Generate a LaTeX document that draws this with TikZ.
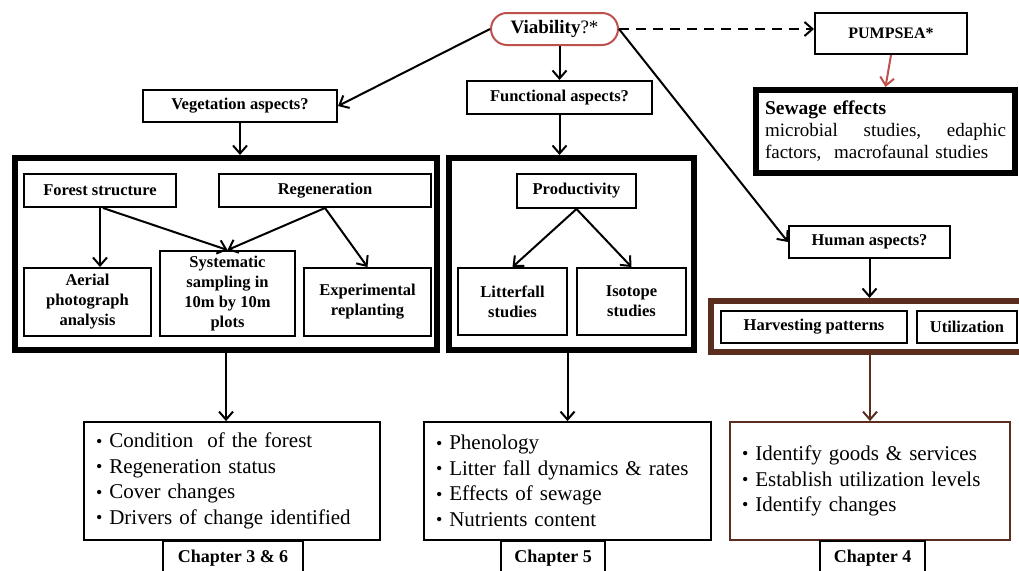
\documentclass[tikz,border=0pt]{standalone}
\usepackage{fontspec}
\setmainfont{Liberation Serif}
\usetikzlibrary{arrows.meta}
\definecolor{vred}{RGB}{192,80,77}
\definecolor{vbrown}{RGB}{90,45,30}
\newcommand\mylbl{\fontsize{16.5}{20}\selectfont\bfseries}
\newcommand\mybul{\raisebox{0.8pt}{\fontsize{18}{18}\selectfont\textbullet}\ }
\tikzset{
  box/.style={draw, line width=2pt, inner sep=0pt, align=center, font=\mylbl},
  thickbox/.style={draw, line width=6pt, inner sep=0pt},
  arr/.style={line width=2pt, -{Straight Barb[length=8pt,width=14pt]}},
  bull/.style={draw, line width=1.8pt, align=left, inner xsep=12pt, inner ysep=0pt,
    font=\fontsize{21}{25.5}\selectfont},
  chap/.style={box, font=\fontsize{18}{20}\selectfont\bfseries, minimum height=34pt}
}
\begin{document}
\begin{tikzpicture}[x=1pt,y=-1pt]
\clip (0,0) rectangle (1019,570);
\fill[white] (0,0) rectangle (1019,570);

% top
\node[draw=vred, line width=2pt, rounded corners=16pt, minimum width=127pt, minimum height=32pt,
  inner sep=0pt, font=\fontsize{19}{22}\selectfont] (viab) at (554.5,29) {\textbf{Viability}?*};
\node[box, minimum width=152pt, minimum height=41pt, font=\fontsize{16}{19}\selectfont\bfseries] (pump) at (891,33.5) {PUMPSEA*};
\node[thickbox, minimum width=259pt, minimum height=83pt, text width=241pt, inner xsep=9pt,
  align=left, font=\fontsize{19}{22}\selectfont] (sew) at (885.5,131.5)
  {{\fontsize{19.5}{22}\selectfont\textbf{Sewage effects}}\\\makebox[241pt][l]{microbial\hfill studies,\hfill edaphic}\\factors,\ \ macrofaunal studies};
\node[box, minimum width=194pt, minimum height=32pt] (veg) at (240,106) {Vegetation aspects?};
\node[box, minimum width=185pt, minimum height=33pt] (func) at (559.5,97.5) {Functional aspects?};
\node[box, minimum width=161pt, minimum height=32pt] (human) at (869.5,242) {Human aspects?};

% big boxes
\node[thickbox, minimum width=422pt, minimum height=192pt] (big1) at (226,254) {};
\node[thickbox, minimum width=245pt, minimum height=192pt] (big2) at (571.5,254) {};
\node[thickbox, draw=vbrown, minimum width=319pt, minimum height=51pt] (brownbox) at (870.5,326.5) {};

% inner boxes
\node[box, minimum width=152pt, minimum height=33pt] (forest) at (100,190.5) {Forest structure};
\node[box, minimum width=212pt, minimum height=33pt] (regen) at (325,190.5) {Regeneration};
\node[box, minimum width=127pt, minimum height=68pt] (aerial) at (87.5,302) {Aerial\\photograph\\analysis};
\node[box, minimum width=135pt, minimum height=85pt] (syst) at (227.5,293.5) {Systematic\\sampling in\\10m by 10m\\plots};
\node[box, minimum width=127pt, minimum height=68pt] (exper) at (367.5,302) {Experimental\\replanting};
\node[box, minimum width=119pt, minimum height=34pt] (prod) at (576.5,191) {Productivity};
\node[box, minimum width=109pt, minimum height=67pt] (litter) at (512.5,301.5) {Litterfall\\studies};
\node[box, minimum width=109pt, minimum height=67pt] (iso) at (631.5,301.5) {Isotope\\studies};
\node[box, minimum width=186pt, minimum height=32pt] (harv) at (814,327) {Harvesting patterns};
\node[box, minimum width=100pt, minimum height=32pt] (util) at (967,327) {Utilization};

% bullet boxes
\node[bull, minimum height=118pt, text width=272pt] (bul1) at (232,481)
  {\mybul Condition~ of the forest\\\mybul Regeneration status\\\mybul Cover changes\\\mybul Drivers of change identified};
\node[bull, minimum height=118pt, text width=263pt] (bul2) at (567.5,481)
  {\mybul Phenology\\\mybul Litter fall dynamics \& rates\\\mybul Effects of sewage\\\mybul Nutrients content};
\node[bull, draw=vbrown, minimum height=118pt, text width=256pt] (bul3) at (870,481)
  {\mybul Identify goods \& services\\\mybul Establish utilization levels\\\mybul Identify changes};

% chapters
\node[chap, minimum width=140pt] (ch1) at (233,558) {Chapter 3 \& 6};
\node[chap, minimum width=104pt] (ch2) at (553,558) {Chapter 5};
\node[chap, minimum width=105pt] (ch3) at (872.5,558) {Chapter 4};

% connectors
\draw[arr] (viab.west) -- (veg.east);
\draw[arr] (func.north |- viab.south) -- (func.north);
\draw[arr, dashed, dash pattern=on 10pt off 7pt] (viab.east) -- (viab.east -| pump.west);
\draw[arr] (viab.east) -- (human.west);
\draw[arr, draw=vred] (pump.south) -- (sew.north);
\draw[arr] (veg.south) -- (veg.south |- big1.north);
\draw[arr] (func.south) -- (func.south |- big2.north);
\draw[arr] (forest.south) -- (forest.south |- aerial.north);
\draw[arr] ([xshift=3pt]forest.south) -- (syst.north);
\draw[arr] (regen.south) -- (syst.north);
\draw[arr] (regen.south) -- (exper.north);
\draw[arr] (prod.south) -- (litter.north);
\draw[arr] (prod.south) -- (iso.north);
\draw[arr] (human.south) -- (human.south |- brownbox.north);
\draw[arr] (big1.south) -- (big1.south |- bul1.north);
\draw[arr] (bul2.north |- big2.south) -- (bul2.north);
\draw[arr, draw=vbrown] (bul3.north |- brownbox.south) -- (bul3.north);
\end{tikzpicture}
\end{document}
